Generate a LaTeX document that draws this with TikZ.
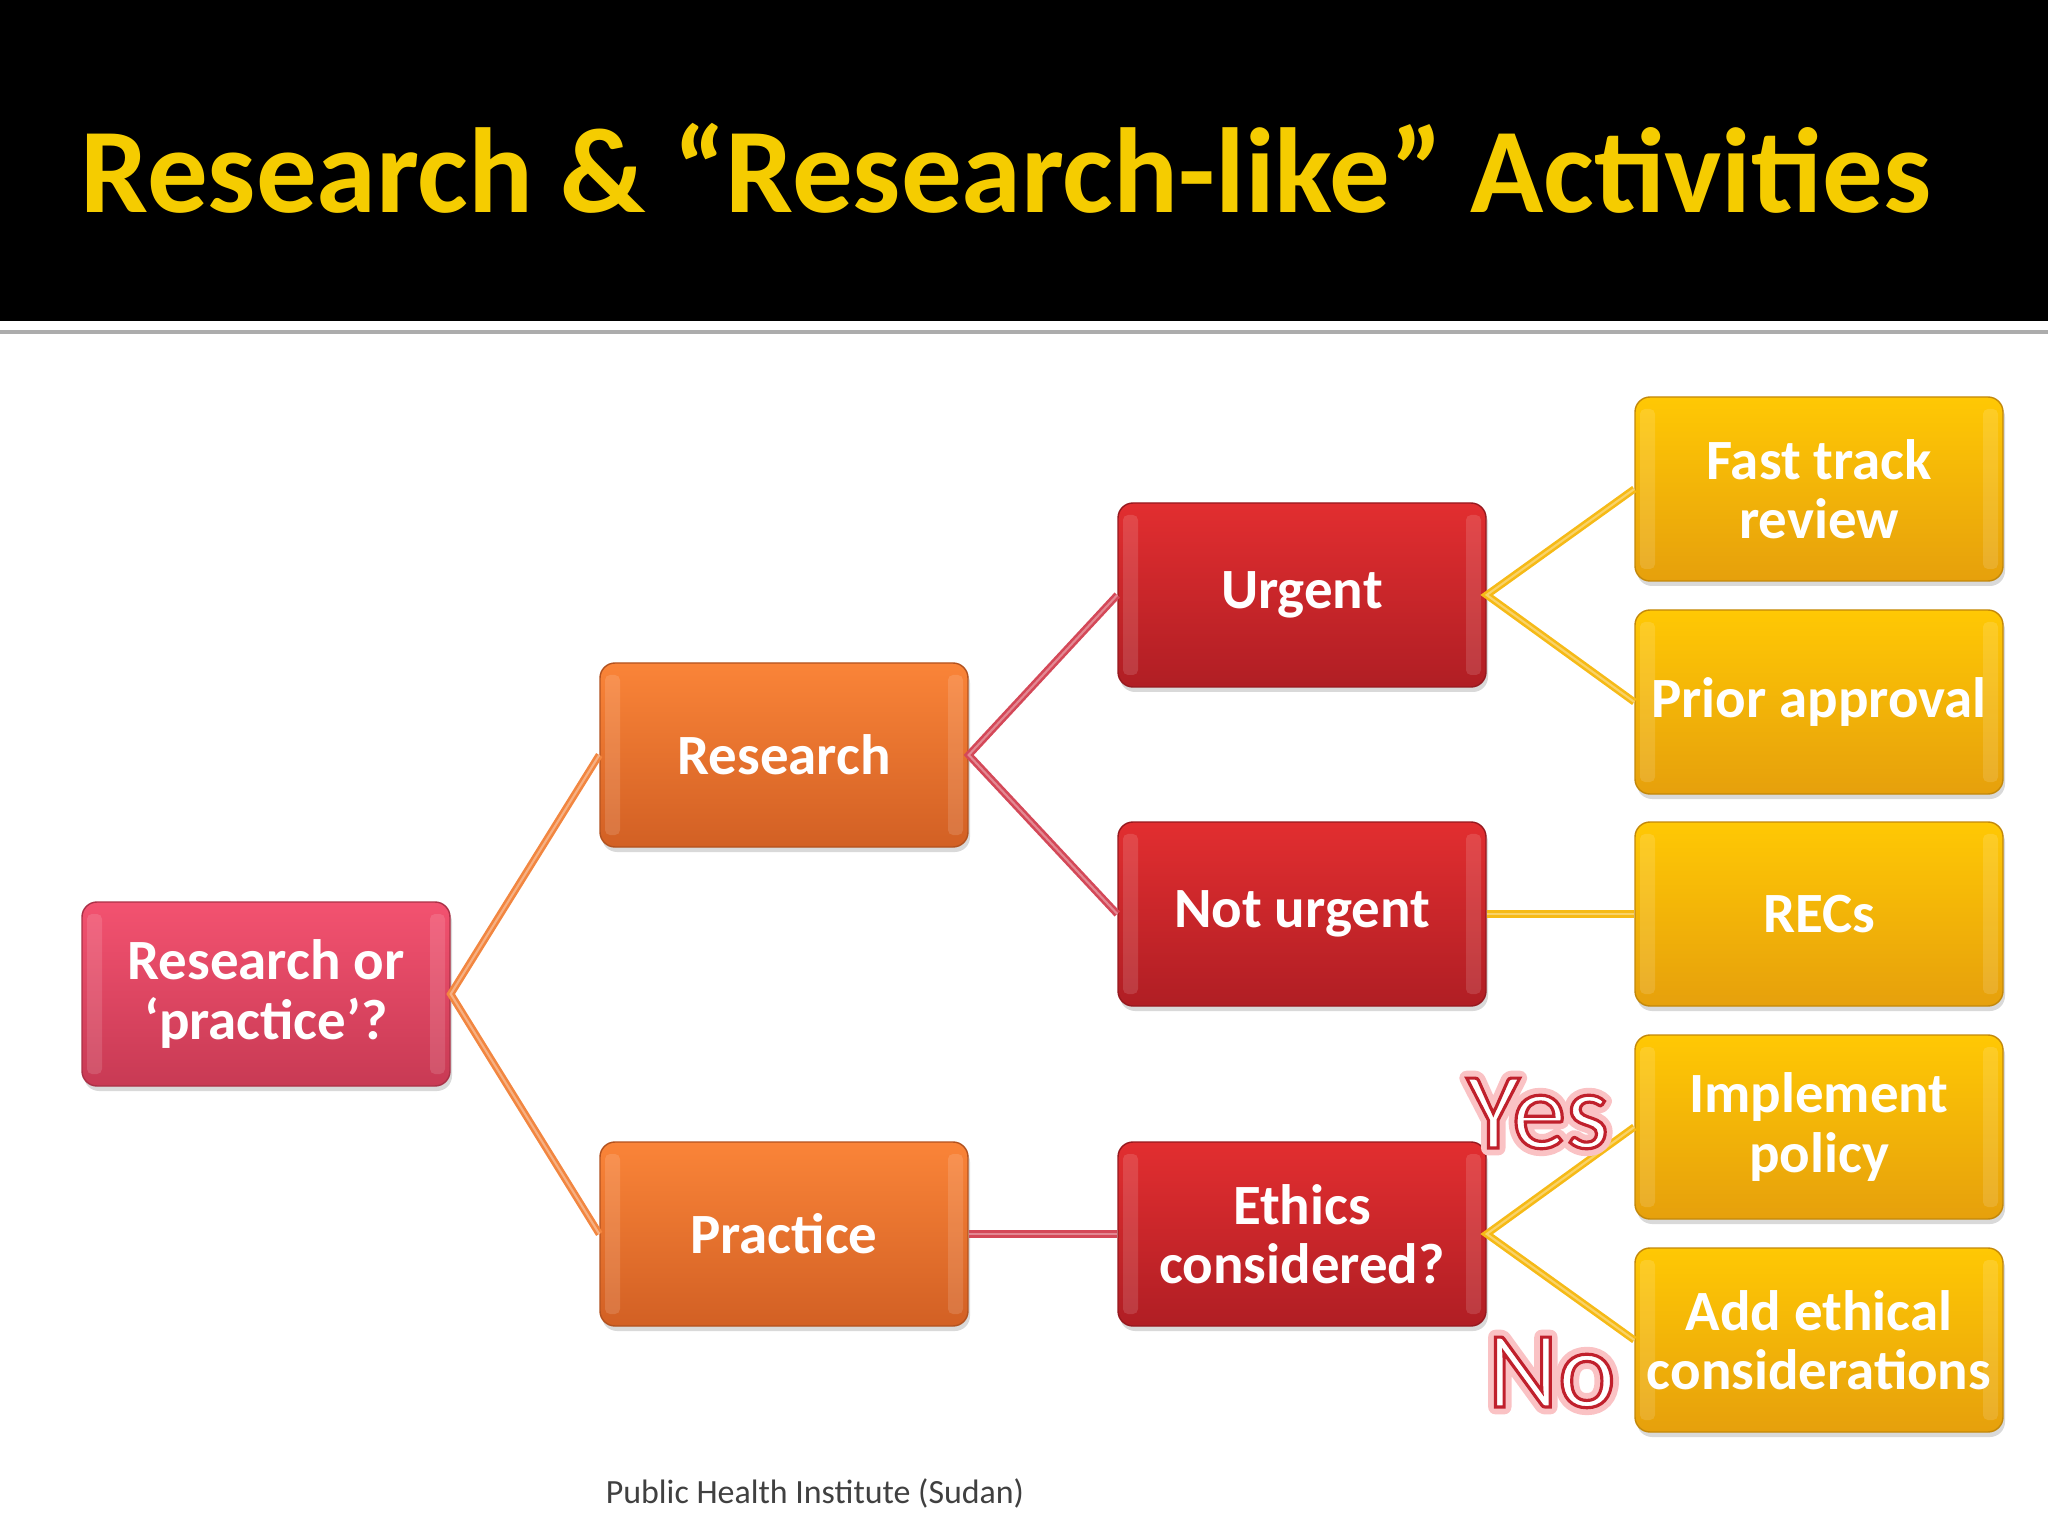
\documentclass[tikz,border=0pt]{standalone}
\usepackage{fontspec}
\setmainfont{Carlito}
\usetikzlibrary{shadows}

\definecolor{titleyellow}{RGB}{245,204,0}
\definecolor{pinktop}{RGB}{243,82,112}
\definecolor{pinkbot}{RGB}{200,58,84}
\definecolor{orangetop}{RGB}{250,132,56}
\definecolor{orangebot}{RGB}{210,96,36}
\definecolor{redtop}{RGB}{226,46,48}
\definecolor{redbot}{RGB}{176,30,36}
\definecolor{goldtop}{RGB}{255,200,4}
\definecolor{goldbot}{RGB}{230,160,12}
\definecolor{orangelink}{RGB}{242,134,64}
\definecolor{crimsonlink}{RGB}{212,72,88}
\definecolor{goldlink}{RGB}{246,186,22}
\definecolor{footergray}{RGB}{64,64,64}

% white text with a red outline (fill + stroke render mode)
\newcommand{\outlined}[1]{\special{pdf:literal direct 2 Tr 0.9 w 0.753 0.125 0.173 RG}#1\special{pdf:literal direct 0 Tr}}
% soft pink halo behind it (stroke only, wide)
\newcommand{\halo}[1]{\special{pdf:literal direct 1 Tr 4.2 w 1 1 J 1 j 0.98 0.76 0.77 RG}#1\special{pdf:literal direct 0 Tr}}

\begin{document}
\begin{tikzpicture}[
    box/.style={rounded corners=0.15cm, minimum width=3.68cm, minimum height=1.84cm,
      inner sep=0pt, align=center, text=white,
      font=\bfseries\fontsize{16.2}{16.8}\selectfont,
      drop shadow={shadow xshift=0.02cm, shadow yshift=-0.05cm, opacity=0.3},
      path picture={
        \fill[white, opacity=0.13, rounded corners=0.05cm]
          ([xshift=0.05cm, yshift=-0.12cm]path picture bounding box.north west)
          rectangle ([xshift=0.2cm, yshift=0.12cm]path picture bounding box.south west);
        \fill[white, opacity=0.13, rounded corners=0.05cm]
          ([xshift=-0.05cm, yshift=-0.12cm]path picture bounding box.north east)
          rectangle ([xshift=-0.2cm, yshift=0.12cm]path picture bounding box.south east);
      }},
    pinkbox/.style={box, top color=pinktop, bottom color=pinkbot, draw=pinkbot!85!black},
    orangebox/.style={box, top color=orangetop, bottom color=orangebot, draw=orangebot!85!black},
    redbox/.style={box, top color=redtop, bottom color=redbot, draw=redbot!85!black},
    goldbox/.style={box, top color=goldtop, bottom color=goldbot, draw=goldbot!85!black},
    link/.style={line width=2.1pt, postaction={draw, white, opacity=0.35, line width=0.6pt}},
    yesno/.style={anchor=base west, inner sep=0pt, text=white, font=\fontsize{31}{31}\selectfont},
  ]
    \useasboundingbox (0,0) rectangle (20.48,-15.36);
    % title bar
    \fill[black] (0,0) rectangle (20.48,-3.21);
    \draw[gray!65, line width=0.9pt] (0,-3.32) -- (20.48,-3.32);
    \node[anchor=base west, inner sep=0pt, text=titleyellow,
      font=\bfseries\fontsize{34.4}{34.4}\selectfont] (title) at (0.8,-2.13)
      {Research \& “Research-like” Activities};

    % boxes
    \node[pinkbox]   (root)      at ( 2.66, -9.94) {Research or\\‘practice’?};
    \node[orangebox] (research)  at ( 7.84, -7.55) {Research};
    \node[orangebox] (practice)  at ( 7.84,-12.34) {Practice};
    \node[redbox]    (urgent)    at (13.02, -5.95) {Urgent};
    \node[redbox]    (noturgent) at (13.02, -9.14) {Not urgent};
    \node[redbox]    (ethics)    at (13.02,-12.34) {Ethics\\considered?};
    \node[goldbox]   (fasttrack) at (18.19, -4.89) {Fast track\\review};
    \node[goldbox]   (prior)     at (18.19, -7.02) {Prior approval};
    \node[goldbox]   (recs)      at (18.19, -9.14) {RECs};
    \node[goldbox]   (implement) at (18.19,-11.27) {Implement\\policy};
    \node[goldbox]   (addethics) at (18.19,-13.40) {Add ethical\\considerations};

    % connectors
    \draw[link, orangelink] (research.west) -- (root.east) -- (practice.west);
    \draw[link, crimsonlink] (urgent.west) -- (research.east) -- (noturgent.west);
    \draw[link, crimsonlink] (practice.east) -- (ethics.west);
    \draw[link, goldlink] (fasttrack.west) -- (urgent.east) -- (prior.west);
    \draw[link, goldlink] (noturgent.east) -- (recs.west);
    \draw[link, goldlink] (implement.west) -- (ethics.east) -- (addethics.west);

    % yes / no
    \node[yesno] (yesglow) at (14.66,-11.48) {\halo{Yes}};
    \node[yesno] (yes) at (14.66,-11.48) {\outlined{Yes}};
    \node[yesno] (noglow) at (14.87,-14.07) {\halo{No}};
    \node[yesno] (no) at (14.87,-14.07) {\outlined{No}};

    % footer
    \node[anchor=base, inner sep=0pt, text=footergray, font=\fontsize{9.65}{10}\selectfont]
      (footer) at (8.15,-15.03) {Public Health Institute (Sudan)};
\end{tikzpicture}
\end{document}
